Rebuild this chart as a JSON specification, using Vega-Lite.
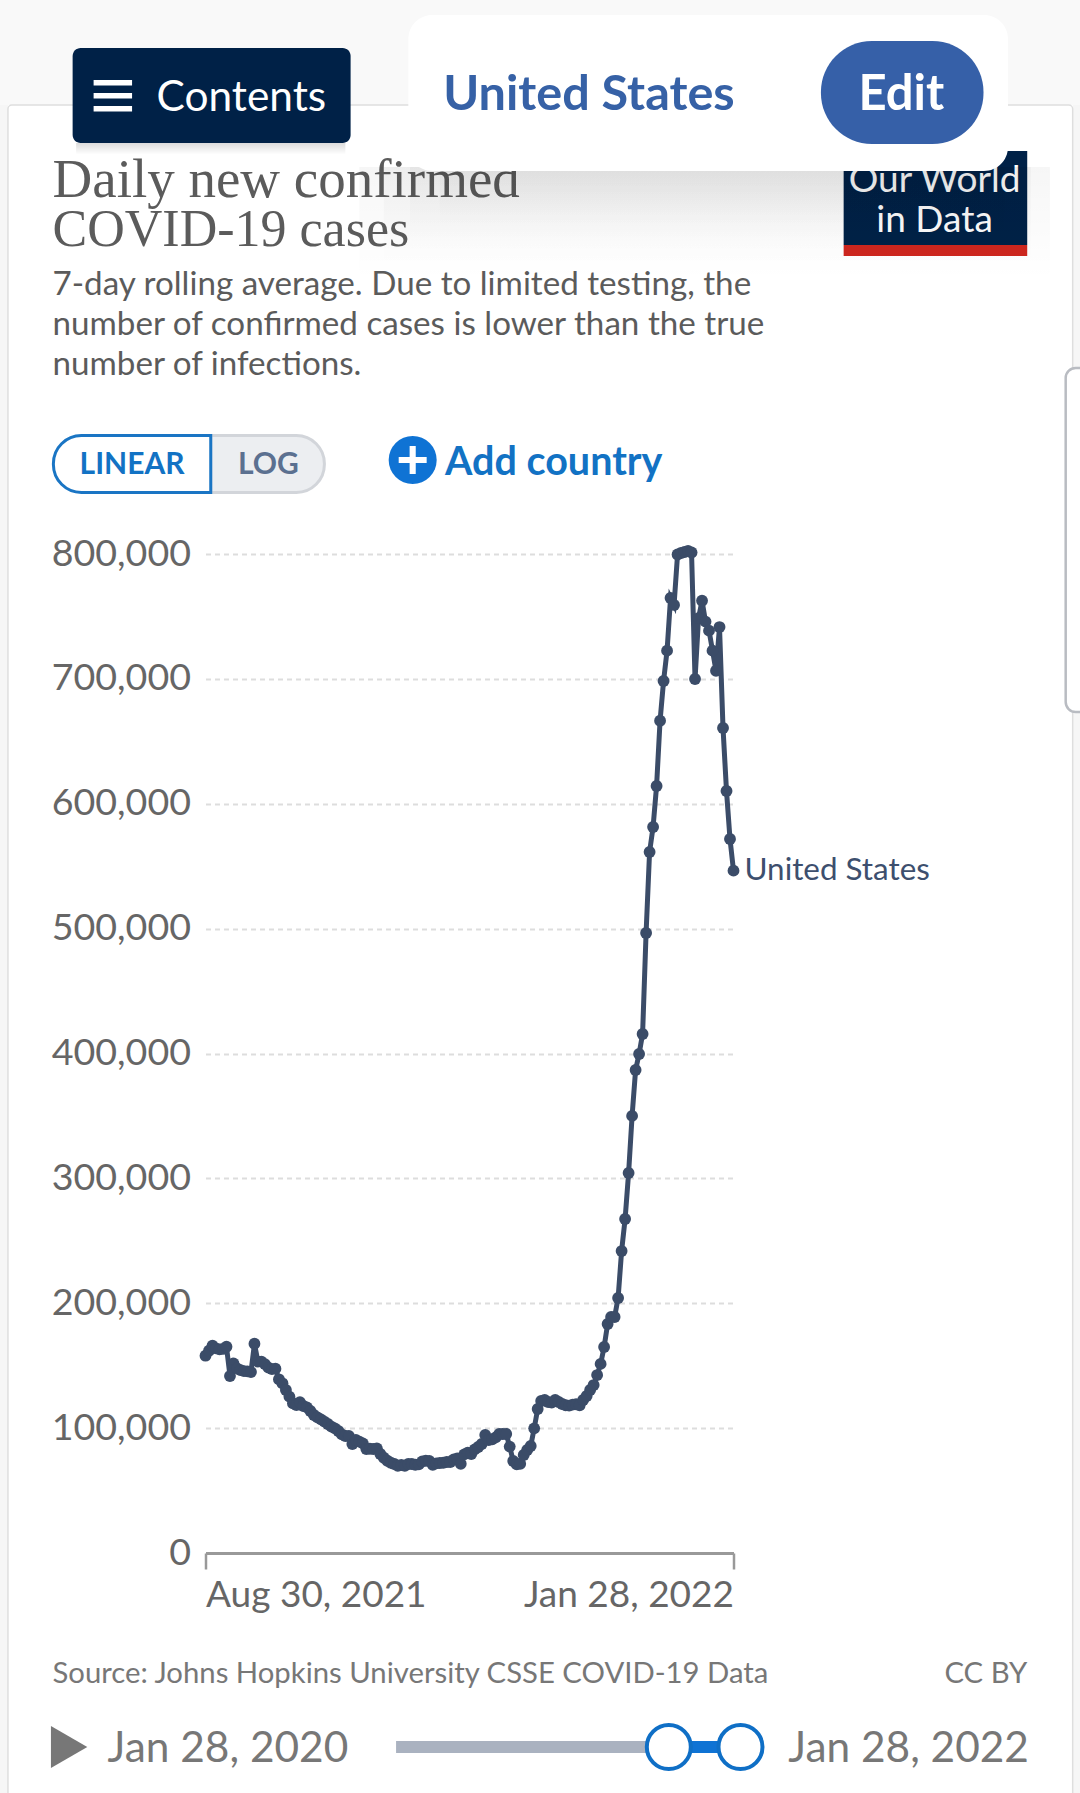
{"$schema":"https://vega.github.io/schema/vega-lite/v6.json","autosize":"none","padding":{"left":205.5,"top":554,"right":346.5,"bottom":240},"width":528,"height":999,"background":"#ffffff",
"config":{"view":{"stroke":null},"font":"Lato","text":{"font":"Lato","baseline":"middle","align":"left"}},
"datasets":{"series":[
{"date":"2021-08-30","cases":158000},{"date":"2021-08-31","cases":162000},{"date":"2021-09-01","cases":166000},{"date":"2021-09-02","cases":163900},{"date":"2021-09-03","cases":163100},{"date":"2021-09-04","cases":163400},{"date":"2021-09-05","cases":165200},{"date":"2021-09-06","cases":141700},{"date":"2021-09-07","cases":151900},{"date":"2021-09-08","cases":147900},{"date":"2021-09-09","cases":146500},{"date":"2021-09-10","cases":145700},{"date":"2021-09-11","cases":145500},{"date":"2021-09-12","cases":144900},{"date":"2021-09-13","cases":167600},{"date":"2021-09-14","cases":153200},{"date":"2021-09-15","cases":153200},{"date":"2021-09-16","cases":151300},{"date":"2021-09-17","cases":148400},{"date":"2021-09-18","cases":147300},{"date":"2021-09-19","cases":147600},{"date":"2021-09-20","cases":139100},{"date":"2021-09-21","cases":135900},{"date":"2021-09-22","cases":130500},{"date":"2021-09-23","cases":125200},{"date":"2021-09-24","cases":119900},{"date":"2021-09-25","cases":118500},{"date":"2021-09-26","cases":120700},{"date":"2021-09-27","cases":117700},{"date":"2021-09-28","cases":116600},{"date":"2021-09-29","cases":113700},{"date":"2021-09-30","cases":110500},
{"date":"2021-10-01","cases":108600},{"date":"2021-10-02","cases":107000},{"date":"2021-10-03","cases":105200},{"date":"2021-10-04","cases":103300},{"date":"2021-10-05","cases":101200},{"date":"2021-10-06","cases":99800},{"date":"2021-10-07","cases":97700},{"date":"2021-10-08","cases":95000},{"date":"2021-10-09","cases":93700},{"date":"2021-10-10","cases":93700},{"date":"2021-10-11","cases":87300},{"date":"2021-10-12","cases":90500},{"date":"2021-10-13","cases":89200},{"date":"2021-10-14","cases":87800},{"date":"2021-10-15","cases":83300},{"date":"2021-10-16","cases":83500},{"date":"2021-10-17","cases":83300},{"date":"2021-10-18","cases":83800},{"date":"2021-10-19","cases":79300},{"date":"2021-10-20","cases":76300},{"date":"2021-10-21","cases":73900},{"date":"2021-10-22","cases":72300},{"date":"2021-10-23","cases":71300},{"date":"2021-10-24","cases":69900},{"date":"2021-10-25","cases":70500},{"date":"2021-10-26","cases":69900},{"date":"2021-10-27","cases":71300},{"date":"2021-10-28","cases":71300},{"date":"2021-10-29","cases":70700},{"date":"2021-10-30","cases":71000},{"date":"2021-10-31","cases":73400},
{"date":"2021-11-01","cases":73900},{"date":"2021-11-02","cases":73700},{"date":"2021-11-03","cases":70700},{"date":"2021-11-04","cases":71800},{"date":"2021-11-05","cases":72100},{"date":"2021-11-06","cases":72300},{"date":"2021-11-07","cases":72900},{"date":"2021-11-08","cases":72900},{"date":"2021-11-09","cases":75000},{"date":"2021-11-10","cases":75800},{"date":"2021-11-11","cases":71500},{"date":"2021-11-12","cases":79000},{"date":"2021-11-13","cases":80300},{"date":"2021-11-14","cases":79300},{"date":"2021-11-15","cases":83000},{"date":"2021-11-16","cases":84900},{"date":"2021-11-17","cases":87300},{"date":"2021-11-18","cases":94500},{"date":"2021-11-19","cases":90500},{"date":"2021-11-20","cases":91000},{"date":"2021-11-21","cases":92600},{"date":"2021-11-22","cases":95300},{"date":"2021-11-23","cases":95300},{"date":"2021-11-24","cases":95300},{"date":"2021-11-25","cases":85200},{"date":"2021-11-26","cases":73700},{"date":"2021-11-27","cases":71000},{"date":"2021-11-28","cases":71500},{"date":"2021-11-29","cases":78500},{"date":"2021-11-30","cases":82500},
{"date":"2021-12-01","cases":85700},{"date":"2021-12-02","cases":99800},{"date":"2021-12-03","cases":115300},{"date":"2021-12-04","cases":121700},{"date":"2021-12-05","cases":122500},{"date":"2021-12-06","cases":120900},{"date":"2021-12-07","cases":120400},{"date":"2021-12-08","cases":122500},{"date":"2021-12-09","cases":120900},{"date":"2021-12-10","cases":119300},{"date":"2021-12-11","cases":118300},{"date":"2021-12-12","cases":118000},{"date":"2021-12-13","cases":118800},{"date":"2021-12-14","cases":119100},{"date":"2021-12-15","cases":118300},{"date":"2021-12-16","cases":122500},{"date":"2021-12-17","cases":125700},{"date":"2021-12-18","cases":130500},{"date":"2021-12-19","cases":134500},{"date":"2021-12-20","cases":142500},{"date":"2021-12-21","cases":151400},{"date":"2021-12-22","cases":165000},{"date":"2021-12-23","cases":183400},{"date":"2021-12-24","cases":189000},{"date":"2021-12-25","cases":189000},{"date":"2021-12-26","cases":204200},{"date":"2021-12-27","cases":241800},{"date":"2021-12-28","cases":267500},{"date":"2021-12-29","cases":304300},{"date":"2021-12-30","cases":350000},{"date":"2021-12-31","cases":386800},
{"date":"2022-01-01","cases":399600},{"date":"2022-01-02","cases":415600},{"date":"2022-01-03","cases":496500},{"date":"2022-01-04","cases":561400},{"date":"2022-01-05","cases":581400},{"date":"2022-01-06","cases":614200},{"date":"2022-01-07","cases":666500},{"date":"2022-01-08","cases":698300},{"date":"2022-01-09","cases":722600},{"date":"2022-01-10","cases":764800},{"date":"2022-01-11","cases":759200},{"date":"2022-01-12","cases":799600},{"date":"2022-01-13","cases":800800},{"date":"2022-01-14","cases":801600},{"date":"2022-01-15","cases":802400},{"date":"2022-01-16","cases":801200},{"date":"2022-01-17","cases":699900},{"date":"2022-01-18","cases":748700},{"date":"2022-01-19","cases":762600},{"date":"2022-01-20","cases":745800},{"date":"2022-01-21","cases":738600},{"date":"2022-01-22","cases":722600},{"date":"2022-01-23","cases":706500},{"date":"2022-01-24","cases":741500},{"date":"2022-01-25","cases":660700},{"date":"2022-01-26","cases":610200},{"date":"2022-01-27","cases":571800},{"date":"2022-01-28","cases":546400}
]},
"encoding":{"x":{"type":"temporal","scale":{"type":"utc","domain":["2021-08-30","2022-01-28"]},"axis":{"title":null,"values":["2021-08-30","2022-01-28"],"format":"%b %d, %Y","labelFlush":true,"labelFont":"Lato","labelFontSize":37,"labelColor":"#666666","labelPadding":8,"labelOverlap":false,"labelLimit":400,"tickSize":16,"tickWidth":2.5,"tickColor":"#999999","domainColor":"#999999","domainWidth":3,"grid":false}},
"y":{"type":"quantitative","scale":{"domain":[0,800000],"nice":false},"axis":{"title":null,"values":[0,100000,200000,300000,400000,500000,600000,700000,800000],"format":",.0f","labelFont":"Lato","labelFontSize":37.6,"labelColor":"#666666","labelPadding":15,"labelLimit":400,"ticks":false,"domain":false,"grid":true,"gridColor":"#dddddd","gridDash":[5,4],"gridWidth":2}}},
"layer":[
{"data":{"name":"series"},"mark":{"type":"line","strokeWidth":5,"color":"#3b4c68","point":{"filled":true,"size":140,"color":"#3b4c68","opacity":1}},"encoding":{"x":{"field":"date"},"y":{"field":"cases"}}},
{"data":{"values":[{"label":"United States","date":"2022-01-28","cases":546400}]},"mark":{"type":"text","dx":11,"fontSize":31.4,"color":"#3d4f6e"},"encoding":{"x":{"field":"date"},"y":{"field":"cases"},"text":{"field":"label"}}},

{"data":{"values":[{"label":"page header band"}]},"mark":{"type":"rect","color":"#f9f9f9"},"encoding":{"x":{"datum":{"year":2021,"month":6,"date":1,"utc":true}},"x2":{"datum":{"year":2022,"month":6,"date":1,"utc":true}},"y":{"datum":1159558},"y2":{"datum":1300000}}},
{"data":{"values":[{"label":"page left edge"}]},"mark":{"type":"rect","color":"#f6f6f6"},"encoding":{"x":{"datum":{"year":2021,"month":6,"date":1,"utc":true}},"x2":{"datum":{"year":2021,"month":7,"date":4,"hours":12,"utc":true}},"y":{"datum":-200000},"y2":{"datum":1159558}}},
{"data":{"values":[{"label":"page right edge"}]},"mark":{"type":"rect","color":"#f6f6f6"},"encoding":{"x":{"datum":{"year":2022,"month":5,"date":5,"utc":true}},"x2":{"datum":{"year":2022,"month":6,"date":1,"utc":true}},"y":{"datum":-200000},"y2":{"datum":1159558}}},
{"data":{"values":[{"label":"card outline"}]},"mark":{"type":"rect","fillOpacity":0,"stroke":"#dedede","strokeWidth":1.5,"cornerRadius":4},"encoding":{"x":{"datum":{"year":2021,"month":7,"date":4,"hours":12,"utc":true}},"x2":{"datum":{"year":2022,"month":5,"date":5,"utc":true}},"y":{"datum":-200000},"y2":{"datum":1159558}}},
{"data":{"values":[{"label":"side tab"}]},"mark":{"type":"rect","color":"#ffffff","stroke":"#b9bcc2","strokeWidth":2.5,"cornerRadius":10},"encoding":{"x":{"datum":{"year":2022,"month":5,"date":3,"utc":true}},"x2":{"datum":{"year":2022,"month":5,"date":12,"utc":true}},"y":{"datum":673473},"y2":{"datum":948948}}},

{"data":{"values":[{"label":"Daily new confirmed"}]},"mark":{"type":"text","font":"Liberation Serif","fontSize":55,"color":"#5b5b5b"},"encoding":{"x":{"datum":{"year":2021,"month":7,"date":17,"hours":6,"utc":true}},"y":{"datum":1099498},"text":{"field":"label"}}},
{"data":{"values":[{"label":"COVID-19 cases"}]},"mark":{"type":"text","font":"Liberation Serif","fontSize":52,"color":"#5b5b5b"},"encoding":{"x":{"datum":{"year":2021,"month":7,"date":17,"hours":6,"utc":true}},"y":{"datum":1059500},"text":{"field":"label"}}},
{"data":{"values":[{"label":"7-day rolling average. Due to limited testing, the"}]},"mark":{"type":"text","fontSize":33.2,"color":"#5b5b5b"},"encoding":{"x":{"datum":{"year":2021,"month":7,"date":17,"hours":6,"utc":true}},"y":{"datum":1015415},"text":{"field":"label"}}},
{"data":{"values":[{"label":"number of confirmed cases is lower than the true"}]},"mark":{"type":"text","fontSize":33.2,"color":"#5b5b5b"},"encoding":{"x":{"datum":{"year":2021,"month":7,"date":17,"hours":6,"utc":true}},"y":{"datum":983383},"text":{"field":"label"}}},
{"data":{"values":[{"label":"number of infections."}]},"mark":{"type":"text","fontSize":33.2,"color":"#5b5b5b"},"encoding":{"x":{"datum":{"year":2021,"month":7,"date":17,"hours":6,"utc":true}},"y":{"datum":951351},"text":{"field":"label"}}},

{"data":{"values":[{"label":"logo"}]},"mark":{"type":"rect","color":"#002147"},"encoding":{"x":{"datum":{"year":2022,"month":2,"date":28,"hours":12,"utc":true}},"x2":{"datum":{"year":2022,"month":4,"date":22,"utc":true}},"y":{"datum":1047446},"y2":{"datum":1122722}}},
{"data":{"values":[{"label":"logo band"}]},"mark":{"type":"rect","color":"#ce261e"},"encoding":{"x":{"datum":{"year":2022,"month":2,"date":28,"hours":12,"utc":true}},"x2":{"datum":{"year":2022,"month":4,"date":22,"utc":true}},"y":{"datum":1038638},"y2":{"datum":1047446}}},
{"data":{"values":[{"label":"Our World"}]},"mark":{"type":"text","align":"center","fontSize":37,"color":"#ffffff"},"encoding":{"x":{"datum":{"year":2022,"month":3,"date":26,"hours":12,"utc":true}},"y":{"datum":1098700},"text":{"field":"label"}}},
{"data":{"values":[{"label":"in Data"}]},"mark":{"type":"text","align":"center","fontSize":37,"color":"#ffffff"},"encoding":{"x":{"datum":{"year":2022,"month":3,"date":26,"hours":12,"utc":true}},"y":{"datum":1066666},"text":{"field":"label"}}},

{"data":{"values":[{"label":"Contents shadow"}]},"mark":{"type":"rect","color":{"gradient":"linear","x1":0,"y1":0,"x2":0,"y2":1,"stops":[{"offset":0,"color":"rgba(0,0,0,0.14)"},{"offset":1,"color":"rgba(0,0,0,0)"}]}},"encoding":{"x":{"datum":{"year":2021,"month":7,"date":24,"utc":true}},"x2":{"datum":{"year":2021,"month":10,"date":9,"utc":true}},"y":{"datum":1120000},"y2":{"datum":1129128}}},
{"data":{"values":[{"label":"Contents button"}]},"mark":{"type":"rect","color":"#002147","cornerRadius":8},"encoding":{"x":{"datum":{"year":2021,"month":7,"date":23,"utc":true}},"x2":{"datum":{"year":2021,"month":10,"date":10,"hours":12,"utc":true}},"y":{"datum":1129128},"y2":{"datum":1205204}}},
{"data":{"values":[{"label":"menu bar 1"}]},"mark":{"type":"rect","color":"#ffffff"},"encoding":{"x":{"datum":{"year":2021,"month":7,"date":29,"utc":true}},"x2":{"datum":{"year":2021,"month":8,"date":9,"utc":true}},"y":{"datum":1175186},"y2":{"datum":1179578}}},
{"data":{"values":[{"label":"menu bar 2"}]},"mark":{"type":"rect","color":"#ffffff"},"encoding":{"x":{"datum":{"year":2021,"month":7,"date":29,"utc":true}},"x2":{"datum":{"year":2021,"month":8,"date":9,"utc":true}},"y":{"datum":1164764},"y2":{"datum":1169168}}},
{"data":{"values":[{"label":"menu bar 3"}]},"mark":{"type":"rect","color":"#ffffff"},"encoding":{"x":{"datum":{"year":2021,"month":7,"date":29,"utc":true}},"x2":{"datum":{"year":2021,"month":8,"date":9,"utc":true}},"y":{"datum":1154353},"y2":{"datum":1158758}}},
{"data":{"values":[{"label":"Contents"}]},"mark":{"type":"text","fontSize":42.4,"color":"#ffffff"},"encoding":{"x":{"datum":{"year":2021,"month":8,"date":16,"utc":true}},"y":{"datum":1165164},"text":{"field":"label"}}},

{"data":{"values":[{"label":"card shadow 1"}]},"mark":{"type":"rect","color":{"gradient":"linear","x1":0,"y1":0,"x2":0,"y2":1,"stops":[{"offset":0,"color":"rgba(0,0,0,0.035)"},{"offset":1,"color":"rgba(0,0,0,0)"}]}},"encoding":{"x":{"datum":{"year":2021,"month":10,"date":13,"utc":true}},"x2":{"datum":{"year":2022,"month":4,"date":28,"hours":12,"utc":true}},"y":{"datum":1019418},"y2":{"datum":1110000}}},
{"data":{"values":[{"label":"card shadow 2"}]},"mark":{"type":"rect","color":{"gradient":"linear","x1":0,"y1":0,"x2":0,"y2":1,"stops":[{"offset":0,"color":"rgba(0,0,0,0.035)"},{"offset":1,"color":"rgba(0,0,0,0)"}]}},"encoding":{"x":{"datum":{"year":2021,"month":10,"date":20,"utc":true}},"x2":{"datum":{"year":2022,"month":4,"date":23,"utc":true}},"y":{"datum":1031430},"y2":{"datum":1110000}}},
{"data":{"values":[{"label":"card shadow 3"}]},"mark":{"type":"rect","color":{"gradient":"linear","x1":0,"y1":0,"x2":0,"y2":1,"stops":[{"offset":0,"color":"rgba(0,0,0,0.035)"},{"offset":1,"color":"rgba(0,0,0,0)"}]}},"encoding":{"x":{"datum":{"year":2021,"month":10,"date":27,"hours":12,"utc":true}},"x2":{"datum":{"year":2022,"month":4,"date":15,"hours":12,"utc":true}},"y":{"datum":1047446},"y2":{"datum":1110000}}},
{"data":{"values":[{"label":"card shadow 4"}]},"mark":{"type":"rect","color":{"gradient":"linear","x1":0,"y1":0,"x2":0,"y2":1,"stops":[{"offset":0,"color":"rgba(0,0,0,0.035)"},{"offset":1,"color":"rgba(0,0,0,0)"}]}},"encoding":{"x":{"datum":{"year":2021,"month":11,"date":5,"utc":true}},"x2":{"datum":{"year":2022,"month":4,"date":8,"hours":12,"utc":true}},"y":{"datum":1063462},"y2":{"datum":1110000}}},
{"data":{"values":[{"label":"country card"}]},"mark":{"type":"rect","color":"#ffffff","cornerRadius":24},"encoding":{"x":{"datum":{"year":2021,"month":10,"date":27,"utc":true}},"x2":{"datum":{"year":2022,"month":4,"date":16,"hours":12,"utc":true}},"y":{"datum":1106706},"y2":{"datum":1231630}}},
{"data":{"values":[{"label":"United States"}]},"mark":{"type":"text","fontSize":48.6,"fontWeight":"bold","color":"#3661a6"},"encoding":{"x":{"datum":{"year":2021,"month":11,"date":6,"utc":true}},"y":{"datum":1167566},"text":{"field":"label"}}},
{"data":{"values":[{"label":"Edit button"}]},"mark":{"type":"rect","color":"#3660a8","cornerRadius":51},"encoding":{"x":{"datum":{"year":2022,"month":2,"date":22,"utc":true}},"x2":{"datum":{"year":2022,"month":4,"date":9,"hours":12,"utc":true}},"y":{"datum":1128327},"y2":{"datum":1210810}}},
{"data":{"values":[{"label":"Edit"}]},"mark":{"type":"text","align":"center","fontSize":49,"fontWeight":"bold","color":"#ffffff"},"encoding":{"x":{"datum":{"year":2022,"month":3,"date":17,"utc":true}},"y":{"datum":1167566},"text":{"field":"label"}}},

{"data":{"values":[{"label":"LOG toggle"}]},"mark":{"type":"rect","color":"#eceef1","stroke":"#d2d5da","strokeWidth":3,"cornerRadiusTopRight":28,"cornerRadiusBottomRight":28},"encoding":{"x":{"datum":{"year":2021,"month":8,"date":31,"hours":12,"utc":true}},"x2":{"datum":{"year":2021,"month":10,"date":3,"utc":true}},"y":{"datum":849248},"y2":{"datum":894894}}},
{"data":{"values":[{"label":"LINEAR toggle"}]},"mark":{"type":"rect","color":"#ffffff","stroke":"#1a75c4","strokeWidth":3,"cornerRadiusTopLeft":28,"cornerRadiusBottomLeft":28},"encoding":{"x":{"datum":{"year":2021,"month":7,"date":17,"hours":12,"utc":true}},"x2":{"datum":{"year":2021,"month":8,"date":31,"hours":12,"utc":true}},"y":{"datum":849248},"y2":{"datum":894894}}},
{"data":{"values":[{"label":"LINEAR"}]},"mark":{"type":"text","align":"center","fontSize":30,"fontWeight":"bold","color":"#1272c4"},"encoding":{"x":{"datum":{"year":2021,"month":8,"date":9,"utc":true}},"y":{"datum":871270},"text":{"field":"label"}}},
{"data":{"values":[{"label":"LOG"}]},"mark":{"type":"text","align":"center","fontSize":30,"fontWeight":"bold","color":"#5b7090"},"encoding":{"x":{"datum":{"year":2021,"month":9,"date":17,"utc":true}},"y":{"datum":871270},"text":{"field":"label"}}},
{"data":{"values":[{"label":"add icon"}]},"mark":{"type":"point","filled":true,"opacity":1,"shape":"circle","size":2304,"color":"#0f73d4"},"encoding":{"x":{"datum":{"year":2021,"month":10,"date":28,"hours":6,"utc":true}},"y":{"datum":875274}}},
{"data":{"values":[{"label":"add icon plus, across"}]},"mark":{"type":"rect","color":"#ffffff"},"encoding":{"x":{"datum":{"year":2021,"month":10,"date":24,"hours":6,"utc":true}},"x2":{"datum":{"year":2021,"month":11,"date":1,"hours":6,"utc":true}},"y":{"datum":872872},"y2":{"datum":877676}}},
{"data":{"values":[{"label":"add icon plus, down"}]},"mark":{"type":"rect","color":"#ffffff"},"encoding":{"x":{"datum":{"year":2021,"month":10,"date":27,"hours":9,"utc":true}},"x2":{"datum":{"year":2021,"month":10,"date":29,"hours":3,"utc":true}},"y":{"datum":864063},"y2":{"datum":886485}}},
{"data":{"values":[{"label":"Add country"}]},"mark":{"type":"text","fontSize":39.5,"fontWeight":"bold","color":"#1272c4"},"encoding":{"x":{"datum":{"year":2021,"month":11,"date":6,"hours":12,"utc":true}},"y":{"datum":872872},"text":{"field":"label"}}},

{"data":{"values":[{"label":"Source: Johns Hopkins University CSSE COVID-19 Data"}]},"mark":{"type":"text","fontSize":29.3,"color":"#777777"},"encoding":{"x":{"datum":{"year":2021,"month":7,"date":17,"hours":6,"utc":true}},"y":{"datum":-97000},"text":{"field":"label"}}},
{"data":{"values":[{"label":"CC BY"}]},"mark":{"type":"text","align":"right","fontSize":29.3,"color":"#777777"},"encoding":{"x":{"datum":{"year":2022,"month":4,"date":22,"utc":true}},"y":{"datum":-97000},"text":{"field":"label"}}},
{"data":{"values":[{"label":"play"}]},"mark":{"type":"point","filled":true,"opacity":1,"shape":"triangle-right","size":1764,"color":"#777777"},"encoding":{"x":{"datum":{"year":2021,"month":7,"date":22,"utc":true}},"y":{"datum":-155355}}},
{"data":{"values":[{"label":"Jan 28, 2020"}]},"mark":{"type":"text","fontSize":42.4,"color":"#777777"},"encoding":{"x":{"datum":{"year":2021,"month":8,"date":2,"utc":true}},"y":{"datum":-157000},"text":{"field":"label"}}},
{"data":{"values":[{"label":"Jan 28, 2022"}]},"mark":{"type":"text","align":"right","fontSize":42.4,"color":"#777777"},"encoding":{"x":{"datum":{"year":2022,"month":4,"date":22,"hours":12,"utc":true}},"y":{"datum":-157000},"text":{"field":"label"}}},
{"data":{"values":[{"label":"slider track"}]},"mark":{"type":"rect","color":"#aab2c0"},"encoding":{"x":{"datum":{"year":2021,"month":10,"date":23,"hours":12,"utc":true}},"x2":{"datum":{"year":2022,"month":1,"date":9,"utc":true}},"y":{"datum":-160160},"y2":{"datum":-150550}}},
{"data":{"values":[{"label":"slider range"}]},"mark":{"type":"rect","color":"#0f73d4"},"encoding":{"x":{"datum":{"year":2022,"month":1,"date":9,"utc":true}},"x2":{"datum":{"year":2022,"month":1,"date":30,"utc":true}},"y":{"datum":-160160},"y2":{"datum":-150550}}},
{"data":{"values":[{"label":"start handle"}]},"mark":{"type":"point","filled":true,"opacity":1,"shape":"circle","size":1936,"color":"#ffffff","stroke":"#0f6fc6","strokeWidth":4},"encoding":{"x":{"datum":{"year":2022,"month":1,"date":9,"hours":12,"utc":true}},"y":{"datum":-155355}}},
{"data":{"values":[{"label":"end handle"}]},"mark":{"type":"point","filled":true,"opacity":1,"shape":"circle","size":1936,"color":"#ffffff","stroke":"#0f6fc6","strokeWidth":4},"encoding":{"x":{"datum":{"year":2022,"month":1,"date":30,"utc":true}},"y":{"datum":-155355}}}
]}
